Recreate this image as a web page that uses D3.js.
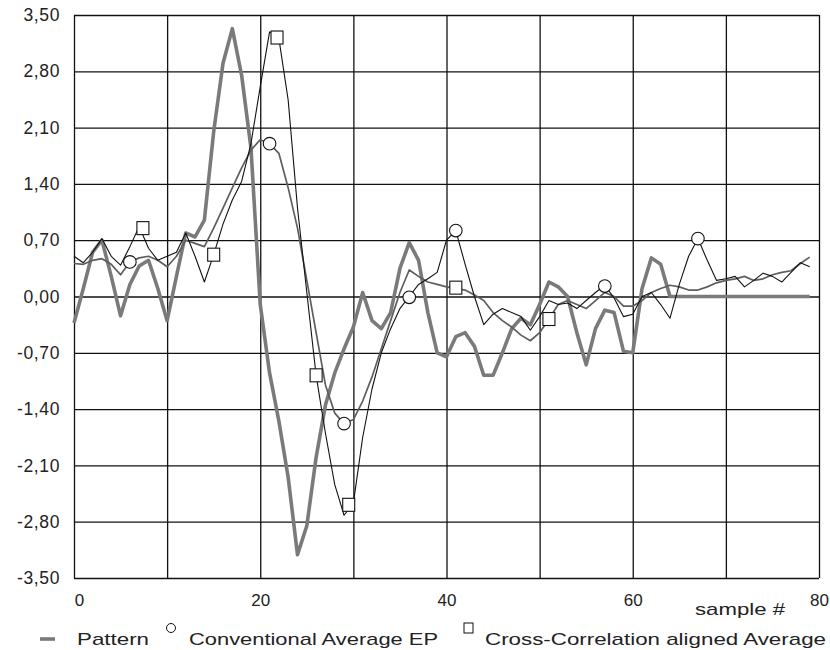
<!DOCTYPE html>
<html>
<head>
<meta charset="utf-8">
<script src="https://cdn.jsdelivr.net/npm/d3@7"></script>
<style>
  html, body { margin: 0; padding: 0; background: #fff; }
  svg { display: block; font-family: "Liberation Sans", Arial, sans-serif; }
</style>
</head>
<body>
<svg id="chart" width="830" height="650"></svg>
<script>
// ---------------- DATA ----------------
const sampleIndex = d3.range(0, 80);

const pattern = [
  -0.33, 0.10, 0.55, 0.70, 0.25, -0.24, 0.15, 0.38, 0.45, 0.10,
  -0.30, 0.25, 0.79, 0.74, 0.95, 2.05, 2.90, 3.33, 2.75, 1.85,
  -0.10, -0.95, -1.55, -2.25, -3.21, -2.85, -2.00, -1.35, -0.95, -0.65,
  -0.38, 0.05, -0.30, -0.40, -0.20, 0.35, 0.67, 0.45, -0.20, -0.70,
  -0.75, -0.50, -0.45, -0.62, -0.98, -0.98, -0.70, -0.40, -0.27, -0.35,
  -0.10, 0.18, 0.12, 0.00, -0.45, -0.85, -0.40, -0.17, -0.20, -0.68,
  -0.70, 0.10, 0.48, 0.40, 0.00, 0.00, 0.00, 0.00, 0.00, 0.00,
  0.00, 0.00, 0.00, 0.00, 0.00, 0.00, 0.00, 0.00, 0.00, 0.00
];

const grayTrace = [
  0.41, 0.40, 0.45, 0.47, 0.40, 0.27, 0.43, 0.48, 0.50, 0.45,
  0.37, 0.50, 0.70, 0.66, 0.62, 0.85, 1.10, 1.35, 1.60, 1.82,
  1.95, 1.90, 1.78, 1.35, 0.85, 0.20, -0.45, -1.10, -1.45, -1.58,
  -1.53, -1.30, -1.00, -0.65, -0.30, 0.05, 0.33, 0.25, 0.18, 0.15,
  0.12, 0.10, 0.08, 0.02, -0.05, -0.20, -0.30, -0.38, -0.48, -0.55,
  -0.45, -0.28, -0.10, -0.05, -0.10, -0.15, -0.05, 0.05, 0.00, -0.12,
  -0.12, -0.05, 0.05, 0.10, 0.14, 0.12, 0.08, 0.08, 0.12, 0.17,
  0.20, 0.22, 0.25, 0.20, 0.22, 0.27, 0.30, 0.32, 0.41, 0.49
];

const blackTrace = [
  0.50, 0.42, 0.55, 0.72, 0.50, 0.39, 0.62, 0.87, 0.60, 0.45,
  0.50, 0.55, 0.79, 0.50, 0.18, 0.52, 0.90, 1.20, 1.43, 1.90,
  2.61, 3.29, 3.21, 2.44, 1.10, 0.05, -0.98, -1.70, -2.34, -2.72,
  -2.57, -1.75, -1.15, -0.70, -0.40, -0.15, 0.00, 0.15, 0.22, 0.30,
  0.70, 0.82, 0.40, 0.00, -0.35, -0.22, -0.15, -0.20, -0.25, -0.42,
  -0.25, -0.05, -0.10, -0.08, -0.15, -0.05, 0.05, 0.14, -0.02, -0.25,
  -0.22, 0.00, 0.05, -0.10, -0.27, 0.15, 0.50, 0.72, 0.45, 0.20,
  0.22, 0.25, 0.12, 0.20, 0.29, 0.25, 0.18, 0.30, 0.42, 0.37
];

// marker series (legend: markers only)
const convMarkerX = [6, 21, 29, 36, 41, 57, 67];
const convMarkerY = [0.43, 1.90, -1.58, -0.01, 0.82, 0.13, 0.72];
const ccMarkerX = [7.4, 15, 21.8, 26, 29.5, 41, 51];
const ccMarkerY = [0.85, 0.52, 3.22, -0.98, -2.59, 0.11, -0.28];

const xGridValues = d3.range(0, 81, 10);
const xTickLabels = [0, 20, 40, 60, 80];
const yTickValues = [3.5, 2.8, 2.1, 1.4, 0.7, 0, -0.7, -1.4, -2.1, -2.8, -3.5];
const legendLabels = ["Pattern", "Conventional Average EP", "Cross-Correlation aligned Average"];
const xAxisTitle = "sample #";

// ---------------- CHART ----------------
const svg = d3.select("#chart");
svg.append("rect").attr("width", 830).attr("height", 650).attr("fill", "#fff");

const x = d3.scaleLinear().domain([0, 80]).range([74, 819]);
const y = d3.scaleLinear().domain([-3.5, 3.5]).range([578, 15]);

// grid (vertical)
const gx = svg.append("g").attr("transform", `translate(0,${y(-3.5)})`)
  .call(d3.axisBottom(x).tickValues(xGridValues).tickSize(-(y(-3.5) - y(3.5))).tickFormat(""));
gx.select(".domain").remove();
gx.selectAll(".tick line").attr("stroke", "#111").attr("stroke-width", 1.3);

// grid (horizontal)
const gy = svg.append("g").attr("transform", `translate(${x(0)},0)`)
  .call(d3.axisLeft(y).tickValues(yTickValues).tickSize(-(x(80) - x(0))).tickFormat(""));
gy.select(".domain").remove();
gy.selectAll(".tick line").attr("stroke", "#111").attr("stroke-width", 1.3);

// y tick labels
const fmt = v => d3.format(".2f")(v).replace(".", ",").replace("−", "-");
const yl = svg.append("g").attr("transform", `translate(60,0)`)
  .call(d3.axisLeft(y).tickValues(yTickValues).tickSize(0).tickPadding(0).tickFormat(fmt));
yl.select(".domain").remove();
yl.selectAll("text").attr("font-size", 17.5).attr("fill", "#222")
  .attr("font-family", "'Liberation Sans', Arial, sans-serif").attr("letter-spacing", 0.6);

// x tick labels
const xl = svg.append("g").attr("transform", `translate(0,590)`)
  .call(d3.axisBottom(x).tickValues(xTickLabels).tickSize(0).tickPadding(0).tickFormat(d3.format("d")));
xl.select(".domain").remove();
xl.selectAll("text").attr("font-size", 17).attr("fill", "#222").attr("dy", "0.95em")
  .attr("font-family", "'Liberation Sans', Arial, sans-serif")
  .attr("dx", d => d === 0 ? 5 : 0);

// axis title
svg.append("text").attr("x", 695).attr("y", 615).attr("font-size", 17).attr("fill", "#222")
  .attr("textLength", 90).attr("lengthAdjust", "spacingAndGlyphs").text(xAxisTitle);

// lines
const line = d3.line().x((d, i) => x(sampleIndex[i])).y(d => y(d));

svg.append("path").datum(pattern).attr("d", line)
  .attr("fill", "none").attr("stroke", "#7a7a7a").attr("stroke-width", 3.6)
  .attr("stroke-linejoin", "round");

svg.append("path").datum(grayTrace).attr("d", line)
  .attr("fill", "none").attr("stroke", "#5e5e5e").attr("stroke-width", 1.7)
  .attr("stroke-linejoin", "round");

svg.append("path").datum(blackTrace).attr("d", line)
  .attr("fill", "none").attr("stroke", "#111").attr("stroke-width", 1.1)
  .attr("stroke-linejoin", "round");

// markers
svg.append("g").selectAll("circle").data(convMarkerX).join("circle")
  .attr("cx", d => x(d)).attr("cy", (d, i) => y(convMarkerY[i])).attr("r", 6.3)
  .attr("fill", "#fff").attr("stroke", "#111").attr("stroke-width", 1.1);

svg.append("g").selectAll("rect").data(ccMarkerX).join("rect")
  .attr("x", d => x(d) - 6).attr("y", (d, i) => y(ccMarkerY[i]) - 6.5)
  .attr("width", 12).attr("height", 13)
  .attr("fill", "#fff").attr("stroke", "#111").attr("stroke-width", 1.1);

// legend
const lg = svg.append("g").attr("font-size", 17).attr("fill", "#222");
lg.append("line").attr("x1", 40).attr("x2", 55).attr("y1", 639).attr("y2", 639)
  .attr("stroke", "#7a7a7a").attr("stroke-width", 3.6);
lg.append("text").attr("x", 77).attr("y", 645).attr("textLength", 72)
  .attr("lengthAdjust", "spacingAndGlyphs").text(legendLabels[0]);
lg.append("circle").attr("cx", 171).attr("cy", 628).attr("r", 4.5)
  .attr("fill", "#fff").attr("stroke", "#111").attr("stroke-width", 1);
lg.append("text").attr("x", 189).attr("y", 645).attr("textLength", 249)
  .attr("lengthAdjust", "spacingAndGlyphs").text(legendLabels[1]);
lg.append("rect").attr("x", 464).attr("y", 623).attr("width", 9).attr("height", 10)
  .attr("fill", "#fff").attr("stroke", "#111").attr("stroke-width", 1);
lg.append("text").attr("x", 485).attr("y", 645).attr("textLength", 341)
  .attr("lengthAdjust", "spacingAndGlyphs").text(legendLabels[2]);
</script>
</body>
</html>
